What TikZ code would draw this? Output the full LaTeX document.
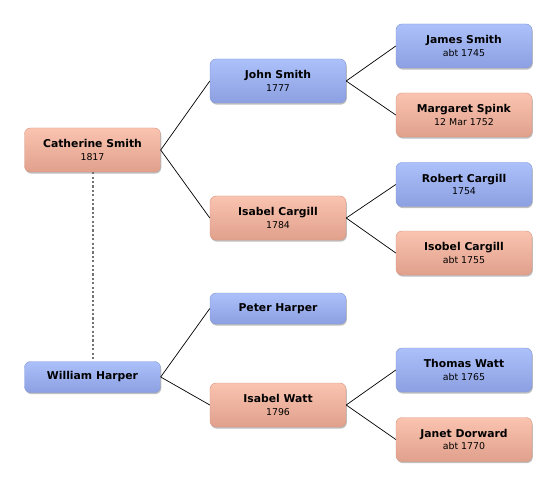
\documentclass[tikz,border=0pt]{standalone}
\usepackage{fontspec}
\setmainfont{DejaVu Sans}
\usetikzlibrary{shadows}
\definecolor{bluetop}{RGB}{172,192,250}
\definecolor{bluebot}{RGB}{140,160,226}
\definecolor{blueedge}{RGB}{130,150,215}
\definecolor{orgtop}{RGB}{250,196,176}
\definecolor{orgbot}{RGB}{224,160,140}
\definecolor{orgedge}{RGB}{215,150,130}
\tikzset{
  person/.style={rounded corners=6pt, minimum width=136pt, minimum height=44pt,
    inner sep=0pt, align=center, line width=0.4pt,
    drop shadow={shadow xshift=0.8pt, shadow yshift=-1.6pt, opacity=0.25, fill=black},
    font=\fontsize{10.8}{12.5}\selectfont},
  male/.style={person, draw=blueedge, top color=bluetop, bottom color=bluebot},
  female/.style={person, draw=orgedge, top color=orgtop, bottom color=orgbot},
  single/.style={minimum height=31pt},
  link/.style={line width=0.7pt, black},
  spouse/.style={line width=2pt, black!55, dash pattern=on 2.2pt off 2.2pt}
}
\newcommand{\yr}[1]{{\fontsize{9.4}{11}\selectfont #1}}
\begin{document}
\begin{tikzpicture}[x=1pt,y=-1pt]
\useasboundingbox (0,0) rectangle (556,486);
\fill[white] (0,0) rectangle (556,486);
\node[female] (cat) at (92.5,150) {\textbf{Catherine Smith}\\\yr{1817}};
\node[male, single] (wil) at (92.5,377) {\textbf{William Harper}};
\node[male] (john) at (278,81) {\textbf{John Smith}\\\yr{1777}};
\node[female] (isc) at (278,218) {\textbf{Isabel Cargill}\\\yr{1784}};
\node[male, single] (pet) at (278,308.5) {\textbf{Peter Harper}};
\node[female] (isw) at (278,405) {\textbf{Isabel Watt}\\\yr{1796}};
\node[male] (jam) at (464,46) {\textbf{James Smith}\\\yr{abt 1745}};
\node[female] (mar) at (464,115) {\textbf{Margaret Spink}\\\yr{12 Mar 1752}};
\node[male] (rob) at (464,184.5) {\textbf{Robert Cargill}\\\yr{1754}};
\node[female] (iso) at (464,253) {\textbf{Isobel Cargill}\\\yr{abt 1755}};
\node[male] (tho) at (464,370) {\textbf{Thomas Watt}\\\yr{abt 1765}};
\node[female] (jan) at (464,439.5) {\textbf{Janet Dorward}\\\yr{abt 1770}};
\draw[spouse] (cat.south) -- (wil.north);
\draw[link] (cat.east) -- (john.west);
\draw[link] (cat.east) -- (isc.west);
\draw[link] (wil.east) -- (pet.west);
\draw[link] (wil.east) -- (isw.west);
\draw[link] (john.east) -- (jam.west);
\draw[link] (john.east) -- (mar.west);
\draw[link] (isc.east) -- (rob.west);
\draw[link] (isc.east) -- (iso.west);
\draw[link] (isw.east) -- (tho.west);
\draw[link] (isw.east) -- (jan.west);
\end{tikzpicture}
\end{document}
